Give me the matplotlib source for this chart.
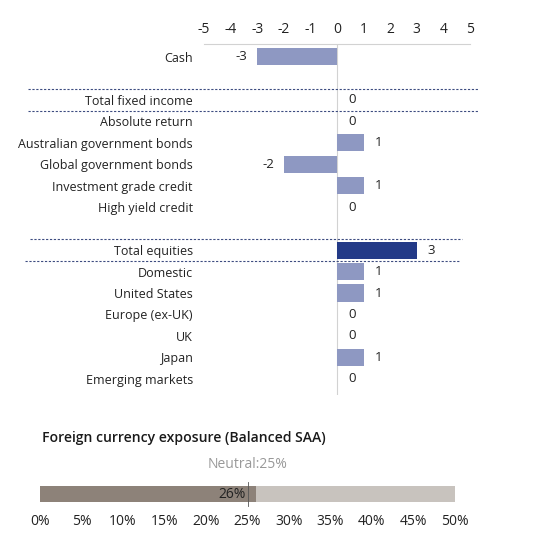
import numpy as np
import matplotlib
matplotlib.use("Agg")
import matplotlib.pyplot as plt
import matplotlib.transforms as mtransforms

plt.rcParams['font.family'] = ['Open Sans', 'DejaVu Sans']

# tilt data (slot index -> label/value); None marks an empty spacer row
categories = ["Cash", None, "Total fixed income", "Absolute return",
              "Australian government bonds", "Global government bonds",
              "Investment grade credit", "High yield credit", None,
              "Total equities", "Domestic", "United States", "Europe (ex-UK)",
              "UK", "Japan", "Emerging markets"]
values = [-3, None, 0, 0, 1, -2, 1, 0, None, 3, 1, 1, 0, 0, 1, 0]
totals = ["Total fixed income", "Total equities"]
x_ticks = list(range(-5, 6))

# foreign currency exposure
fx_actual = 26
fx_neutral = 25
fx_max = 50
fx_ticks = list(range(0, 55, 5))

LIGHT = "#8E98C2"
DARK = "#233A87"
DASH = "#3D4C80"
GRID = "#D2D2D2"
TEXT = "#222222"

W, H = 553, 545
fig = plt.figure(figsize=(W / 100, H / 100), dpi=100)


def fx(px):
    return px / W


def fy(px):
    return 1 - px / H


# ---- tilts chart ----
ax = fig.add_axes([fx(204), fy(395), fx(470) - fx(204), fy(44) - fy(395)])
ax.set_xlim(-5, 5)
ax.set_ylim(15.75, -0.6)

pos = [i for i, c in enumerate(categories) if c is not None]
labels = [categories[i] for i in pos]
vals = [values[i] for i in pos]
colors = [DARK if c in totals else LIGHT for c in labels]

ax.barh(pos, vals, height=0.8, color=colors, zorder=2)
ax.axvline(0, color=GRID, lw=0.8, zorder=1)

for p, v in zip(pos, vals):
    if v < 0:
        ax.annotate(f"{v}", (v, p), xytext=(-7, 0), textcoords="offset points",
                    ha="right", va="center", fontsize=9.5, color=TEXT)
    else:
        ax.annotate(f"{v}", (v, p), xytext=(8, 0), textcoords="offset points",
                    ha="left", va="center", fontsize=9.5, color=TEXT)

ax.set_yticks(pos)
ax.set_yticklabels(labels, fontsize=9, color=TEXT)
ax.set_xticks(x_ticks)
ax.set_xticklabels([str(t) for t in x_ticks], fontsize=10, color=TEXT)
ax.xaxis.tick_top()
ax.tick_params(axis="both", length=0)
ax.tick_params(axis="x", pad=5)
ax.tick_params(axis="y", pad=8)
for s in ["left", "right", "bottom"]:
    ax.spines[s].set_visible(False)
ax.spines["top"].set_color(GRID)
ax.spines["top"].set_linewidth(0.8)

# dashed separators around the total rows
trans = mtransforms.blended_transform_factory(fig.transFigure, ax.transData)
sep_rows = [(1.5, 28, 478), (2.5, 28, 478), (8.5, 30, 462), (9.5, 25, 460)]
for yy, x0, x1 in sep_rows:
    ax.plot([fx(x0), fx(x1)], [yy, yy], transform=trans, color=DASH, lw=0.8,
            ls=(0, (2, 1.5)), clip_on=False)

# ---- foreign currency exposure ----
fig.text(fx(42), fy(438), "Foreign currency exposure (Balanced SAA)",
         fontsize=10.1, fontweight="semibold", color="#1a1a1a",
         ha="left", va="center")

bx = fig.add_axes([fx(40), fy(510), fx(455) - fx(40), fy(478) - fy(510)])
bx.set_xlim(0, fx_max)
bx.set_ylim(-1, 1)
bx.barh(0, fx_max, height=1, color="#C8C3BE", left=0)
bx.barh(0, fx_actual, height=1, color="#8D8279")
bx.axvline(fx_neutral, ymin=0.12, ymax=0.88, color="#555555", lw=0.6)
bx.annotate(f"{fx_actual}%", (fx_actual, 0), xytext=(-7, 0),
            textcoords="offset points", ha="right", va="center",
            fontsize=10, color=TEXT)
bx.annotate(f"Neutral:{fx_neutral}%", (fx_neutral, 1), xytext=(0, 10),
            textcoords="offset points", ha="center", va="center",
            fontsize=10, color="#999999", annotation_clip=False)
bx.set_xticks(fx_ticks)
bx.set_xticklabels([f"{t}%" for t in fx_ticks], fontsize=10, color=TEXT)
bx.set_yticks([])
bx.tick_params(axis="x", length=0, pad=3)
for s in bx.spines.values():
    s.set_visible(False)

fig.savefig("out.png", dpi=100, facecolor="white")
